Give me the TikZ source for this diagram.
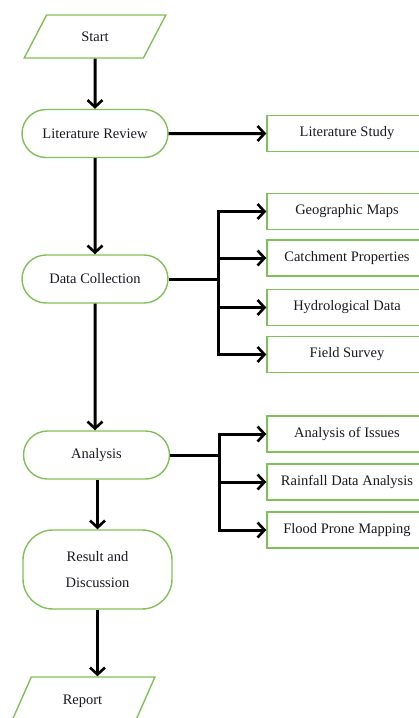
\documentclass[tikz,border=0pt]{standalone}
\usepackage{fontspec}
\setmainfont{Liberation Serif}
\usetikzlibrary{arrows.meta,shapes.geometric,shapes.misc}
\definecolor{fgreen}{RGB}{128,192,88}
\definecolor{ftext}{RGB}{25,25,35}
\tikzset{
  base/.style={draw=fgreen,line width=1.4pt,text=ftext,font=\fontsize{14.5}{26}\selectfont,align=center,inner sep=0pt},
  io/.style={base,trapezium,trapezium left angle=57,trapezium right angle=123,trapezium stretches=true,minimum width=142pt,minimum height=43pt},
  proc/.style={base,rounded rectangle,minimum width=146pt,minimum height=48pt},
  sub/.style={base,rectangle,minimum width=160pt,minimum height=36pt},
  arr/.style={line width=3pt,-{Straight Barb[length=7pt,width=15pt,line width=2.6pt]}},
  ln/.style={line width=3pt}
}
\begin{document}
\begin{tikzpicture}[x=1pt,y=-1pt]
\useasboundingbox (0,0) rectangle (418,718);
% main column
\node[io] (start) at (95,36.5) {Start};
\node[proc] (lr) at (95,133.5) {Literature Review};
\node[proc] (dc) at (95,279) {Data Collection};
\node[proc] (an) at (96.5,455) {Analysis};
\node[base,rounded corners=30pt,minimum width=149pt,minimum height=79pt] (rd) at (97.5,569.5) {Result and\\Discussion};
\node[io,minimum height=48pt,minimum width=145pt] (rep) at (82.5,701) {Report};
% side boxes
\node[sub] (ls) at (347,133.5) {Literature Study};
\node[sub] (gm) at (347,211.5) {Geographic Maps};
\node[sub] (cp) at (347,258) {Catchment Properties};
\node[sub] (hd) at (347,307.5) {Hydrological Data};
\node[sub] (fs) at (347,354.5) {Field Survey};
\node[sub] (ai) at (347,434) {Analysis of Issues};
\node[sub] (ra) at (347,482) {Rainfall Data Analysis};
\node[sub] (fp) at (347,530) {Flood Prone Mapping};
% junctions
\coordinate (jd) at (218,279);
\coordinate (ja) at (219,455);
% main arrows
\draw[arr] (start) -- (lr);
\draw[arr] (lr) -- (dc);
\draw[arr] (dc) -- (an.north -| dc);
\draw[arr] (an.south -| rd) -- (rd);
\draw[arr] (rd.south) -- (rep.north -| rd.south);
\draw[arr] (lr) -- (ls);
% data collection branches
\draw[ln] (dc.east) -- (jd);
\draw[arr] (jd) |- (gm.west);
\draw[arr] (jd) |- (cp.west);
\draw[arr] (jd) |- (hd.west);
\draw[arr] (jd) |- (fs.west);
% analysis branches
\draw[ln] (an.east) -- (ja);
\draw[arr] (ja) |- (ai.west);
\draw[arr] (ja) |- (ra.west);
\draw[arr] (ja) |- (fp.west);
\end{tikzpicture}
\end{document}
